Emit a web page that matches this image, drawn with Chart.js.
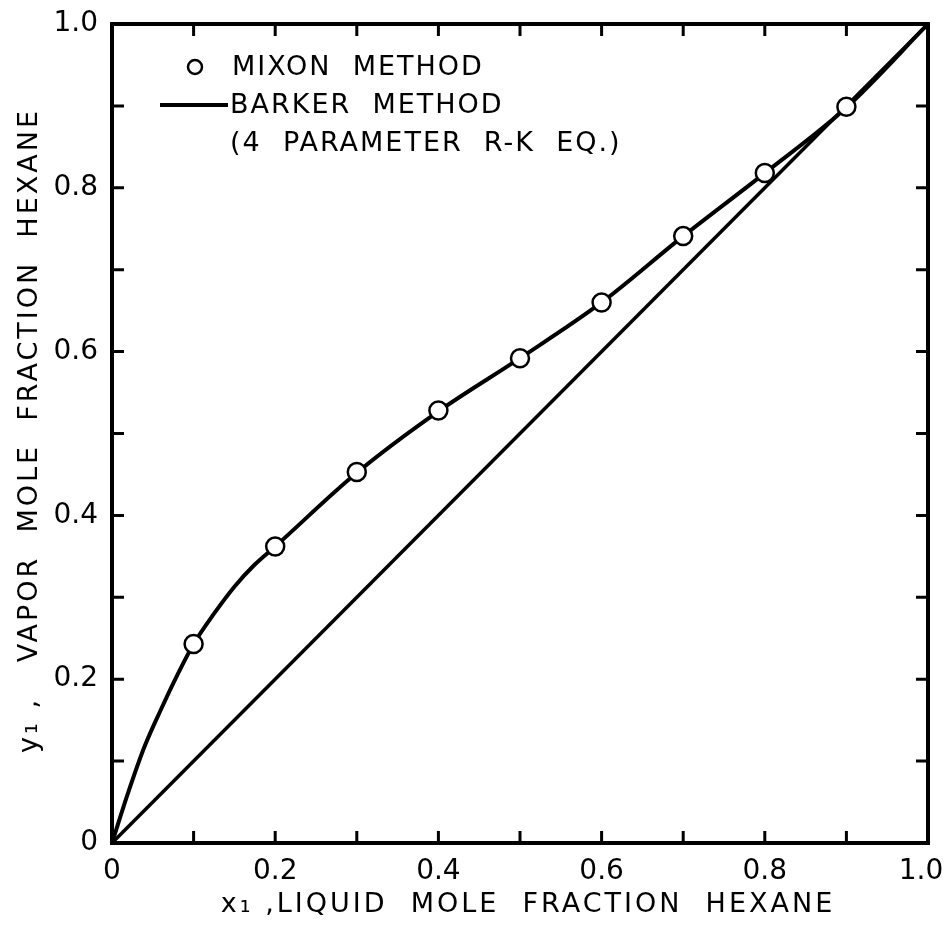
<!DOCTYPE html>
<html>
<head>
<meta charset="utf-8">
<script src="https://cdn.jsdelivr.net/npm/chart.js@4.4.0/dist/chart.umd.min.js"></script>
<style>
  html, body { margin: 0; padding: 0; background: #fff; }
</style>
</head>
<body>
<canvas id="chartVle" width="944" height="933"></canvas>
<script>
// Mixon method (circles)
var mixonX = [0.1, 0.2, 0.3, 0.4, 0.5, 0.6, 0.7, 0.8, 0.9]
var mixonY = [0.243, 0.362, 0.453, 0.528, 0.592, 0.660, 0.741, 0.818, 0.899]

// Barker method curve (4 parameter R-K eq.)
var barkerX = [0, 0.02, 0.04, 0.06, 0.08, 0.1, 0.125, 0.15, 0.175, 0.2, 0.3, 0.4, 0.5, 0.6, 0.7, 0.8, 0.9, 1.0]
var barkerY = [0, 0.062, 0.118, 0.163, 0.205, 0.243, 0.280, 0.313, 0.340, 0.362, 0.452, 0.527, 0.592, 0.660, 0.741, 0.818, 0.898, 1.0]

// y = x reference line
var diagX = [0, 1]
var diagY = [0, 1]

var tickLabels = ['0', '0.2', '0.4', '0.6', '0.8', '1.0']
var legendLines = ['MIXON  METHOD', 'BARKER  METHOD', '(4  PARAMETER  R-K  EQ.)']
var xTitle = 'x₁ ,LIQUID  MOLE  FRACTION  HEXANE'
var yTitle = 'y₁ ,   VAPOR  MOLE  FRACTION  HEXANE'

var FONT = '"DejaVu Sans", sans-serif'

function toPoints(xs, ys) {
    return xs.map(function (x, i) { return { x: x, y: ys[i] } })
}

function tickText(value) {
    var k = Math.round(value * 10)
    if (k % 2 !== 0) return ''
    return tickLabels[k / 2]
}

// last x label would run off the canvas: pad it so it sits a bit left
function xTickText(value) {
    var t = tickText(value)
    if (Math.round(value * 10) === 10) t = t + '\u2002'
    return t
}

// frame + inward ticks on all four sides
var framePlugin = {
    id: 'frame',
    afterDatasetsDraw: function (chart) {
        var ctx = chart.ctx
        var a = chart.chartArea
        var xs = chart.scales.x
        var ys = chart.scales.y
        ctx.save()
        ctx.strokeStyle = '#000'
        ctx.lineWidth = 3
        for (var i = 1; i < 10; i++) {
            var px = xs.getPixelForValue(i / 10)
            var py = ys.getPixelForValue(i / 10)
            ctx.beginPath()
            ctx.moveTo(px, a.bottom); ctx.lineTo(px, a.bottom - 12)
            ctx.moveTo(px, a.top); ctx.lineTo(px, a.top + 12)
            ctx.moveTo(a.left, py); ctx.lineTo(a.left + 12, py)
            ctx.moveTo(a.right, py); ctx.lineTo(a.right - 12, py)
            ctx.stroke()
        }
        ctx.lineWidth = 4
        ctx.strokeRect(a.left, a.top, a.right - a.left, a.bottom - a.top)
        ctx.restore()
    }
}

// axis titles + legend, lettered with wide spacing
var textPlugin = {
    id: 'lettering',
    afterDraw: function (chart) {
        var ctx = chart.ctx
        var a = chart.chartArea
        ctx.save()
        ctx.fillStyle = '#000'
        ctx.strokeStyle = '#000'
        ctx.textBaseline = 'middle'

        // axis titles
        ctx.letterSpacing = '3px'
        ctx.font = '27px ' + FONT
        ctx.textAlign = 'center'
        ctx.fillText(xTitle, (a.left + a.right) / 2 + 8, 905)
        ctx.save()
        ctx.translate(30, (a.top + a.bottom) / 2 - 3)
        ctx.rotate(-Math.PI / 2)
        ctx.fillText(yTitle, 0, 0)
        ctx.restore()

        // legend
        ctx.letterSpacing = '2px'
        ctx.textAlign = 'left'
        ctx.lineWidth = 2.5
        ctx.beginPath()
        ctx.arc(a.left + 83, a.top + 43, 7, 0, Math.PI * 2)
        ctx.stroke()
        ctx.fillText(legendLines[0], a.left + 120, a.top + 44)

        ctx.lineWidth = 4
        ctx.beginPath()
        ctx.moveTo(a.left + 48, a.top + 81)
        ctx.lineTo(a.left + 116, a.top + 81)
        ctx.stroke()
        ctx.fillText(legendLines[1], a.left + 118, a.top + 82)
        ctx.fillText(legendLines[2], a.left + 118, a.top + 120)
        ctx.restore()
    }
}

var chartVle = new Chart(document.getElementById('chartVle'), {
    type: 'scatter',
    data: {
        datasets: [{
            label: 'MIXON METHOD',
            data: toPoints(mixonX, mixonY),
            pointRadius: 9,
            pointBorderWidth: 2.5,
            pointBackgroundColor: '#fff',
            pointBorderColor: '#000',
            showLine: false
        }, {
            label: 'BARKER METHOD',
            data: toPoints(barkerX, barkerY),
            showLine: true,
            pointRadius: 0,
            borderColor: '#000',
            borderWidth: 4,
            cubicInterpolationMode: 'monotone'
        }, {
            label: 'y = x',
            data: toPoints(diagX, diagY),
            showLine: true,
            pointRadius: 0,
            borderColor: '#000',
            borderWidth: 3.5
        }]
    },
    options: {
        responsive: false,
        animation: false,
        devicePixelRatio: 1,
        layout: { padding: { top: 24, right: 16, left: 0, bottom: 0 } },
        plugins: {
            legend: { display: false },
            tooltip: { enabled: false }
        },
        scales: {
            x: {
                type: 'linear',
                min: 0,
                max: 1,
                afterFit: function (s) {
                    s.height = 90
                    s.paddingRight = 0
                    s.paddingLeft = 0
                },
                grid: { display: false },
                border: { display: false },
                ticks: {
                    stepSize: 0.1,
                    autoSkip: false,
                    maxRotation: 0,
                    padding: 4,
                    color: '#000',
                    font: { family: FONT, size: 28 },
                    callback: xTickText
                }
            },
            y: {
                type: 'linear',
                min: 0,
                max: 1,
                afterFit: function (s) {
                    s.width = 112
                    s.paddingTop = 0
                    s.paddingBottom = 0
                },
                grid: { display: false },
                border: { display: false },
                ticks: {
                    stepSize: 0.1,
                    autoSkip: false,
                    padding: 6,
                    color: '#000',
                    font: { family: FONT, size: 28 },
                    callback: tickText
                }
            }
        }
    },
    plugins: [framePlugin, textPlugin]
})
</script>
</body>
</html>
